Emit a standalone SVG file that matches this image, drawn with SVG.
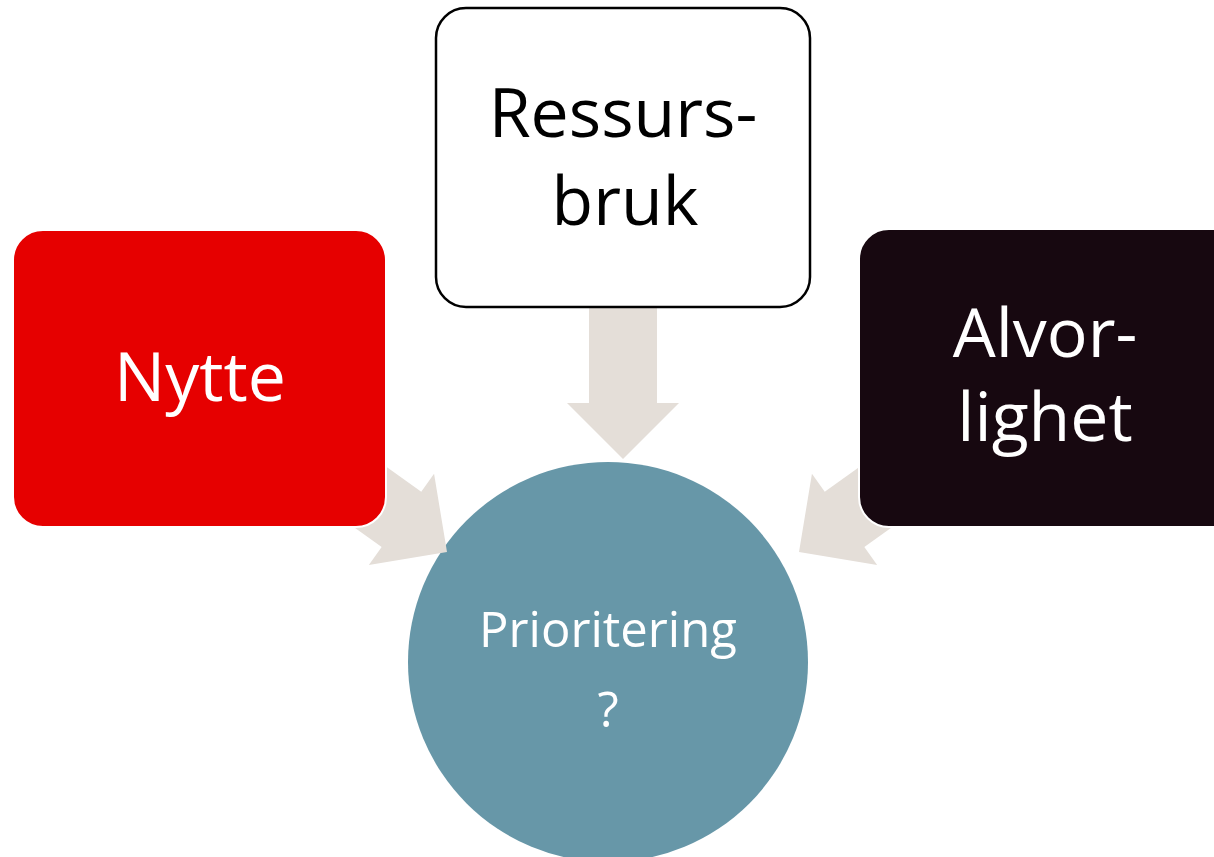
<svg xmlns="http://www.w3.org/2000/svg" width="1214" height="857" viewBox="0 0 1214 857">
<defs>
<style>
.lbl{font-family:"Open Sans","Noto Sans","Liberation Sans",sans-serif;text-anchor:middle}
.big{font-size:68px}
.arrow{fill:#E4DED8}
</style>
<polygon id="arr" points="-151,-34 -56,-34 -56,-56 0,0 -56,56 -56,34 -151,34"/>
</defs>
<rect width="1214" height="857" fill="#ffffff"/>
<g id="node-prioritering">
<circle cx="608" cy="662" r="200" fill="#6797A8"/>
<text class="lbl" x="608" y="647" font-size="49" fill="#ffffff">Prioritering</text>
<text class="lbl" x="608" y="727" font-size="49" fill="#ffffff">?</text>
</g>
<g id="connectors" class="arrow">
<use href="#arr" transform="translate(623,459) rotate(90)"/>
<use href="#arr" transform="translate(447,552) rotate(35.6)"/>
<use href="#arr" transform="translate(799,552) rotate(144.4)"/>
</g>
<g id="node-nytte">
<rect x="13" y="230" width="373" height="297" rx="30" fill="#E60000" stroke="#ffffff" stroke-width="2"/>
<text class="lbl big" x="200" y="401" fill="#ffffff">Nytte</text>
</g>
<g id="node-ressursbruk">
<rect x="436" y="8" width="374" height="299" rx="30" fill="#ffffff" stroke="#000000" stroke-width="2.5"/>
<text class="lbl big" x="623" y="137" fill="#000000">Ressurs-</text>
<text class="lbl big" x="625" y="225" fill="#000000">bruk</text>
</g>
<g id="node-alvorlighet">
<rect x="859" y="229" width="390" height="298" rx="30" fill="#170810" stroke="#ffffff" stroke-width="2"/>
<text class="lbl big" x="1045" y="357" fill="#ffffff">Alvor-</text>
<text class="lbl big" x="1045" y="441" fill="#ffffff">lighet</text>
</g>
</svg>
